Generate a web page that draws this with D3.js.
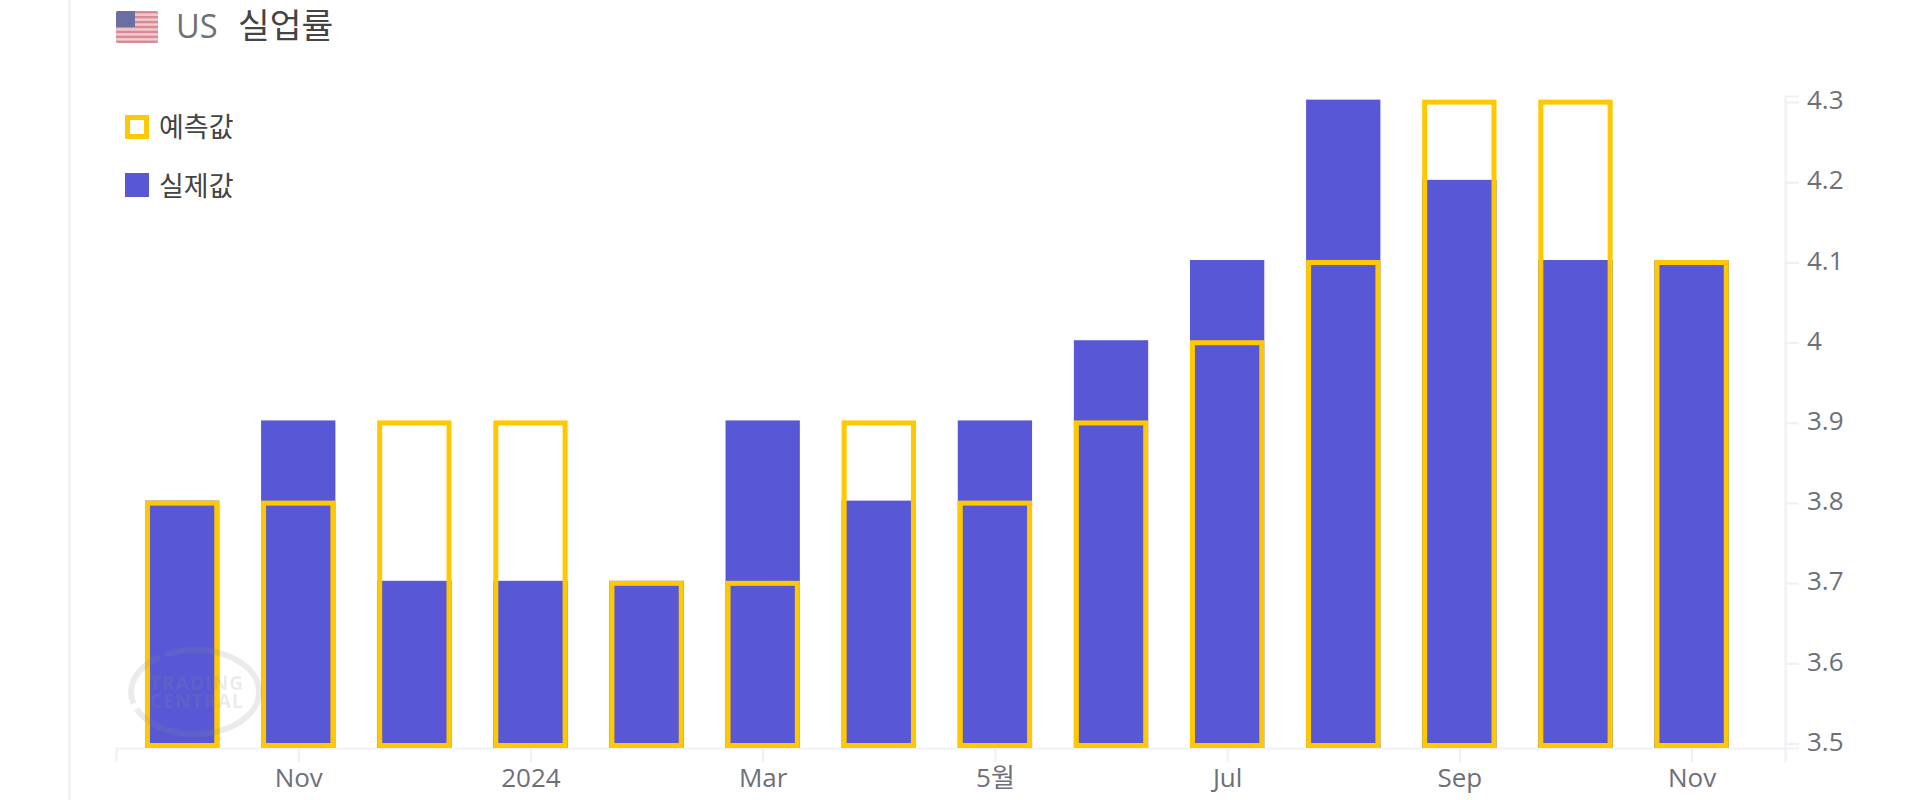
<!DOCTYPE html>
<html><head><meta charset="utf-8">
<script src="https://cdn.jsdelivr.net/npm/d3@7/dist/d3.min.js"></script>
<style>
html,body{margin:0;padding:0;background:#fff;overflow:hidden}
svg{display:block}
text{font-family:"Open Sans","Noto Sans CJK KR",sans-serif}
</style></head><body><div id="c"></div>
<script>
const categories=["Oct","Nov","Dec","2024","Feb","Mar","Apr","5월","Jun","Jul","Aug","Sep","Oct","Nov"];
const forecast=[3.8,3.8,3.9,3.9,3.7,3.7,3.9,3.8,3.9,4.0,4.1,4.3,4.3,4.1];
const actual=[3.8,3.9,3.7,3.7,3.7,3.9,3.8,3.9,4.0,4.1,4.3,4.2,4.1,4.1];
const yTicks=[3.5,3.6,3.7,3.8,3.9,4,4.1,4.2,4.3];
const xTicks=[1,3,5,7,9,11,13];
const legendLabels=["예측값","실제값"];
const titleParts=["US","실업률"];

const W=1920,H=800,BLUE="#5858d6",YEL="#ffc800",AX="#eef1f5",TXT="#6e6f78",DARK="#444444";
const svg=d3.select("#c").append("svg").attr("width",W).attr("height",H);

svg.append("rect").attr("x",68).attr("y",0).attr("width",3).attr("height",H).attr("fill","#f4f4f4");

const x=d3.scaleLinear().domain([-0.5695,13.8045]).range([116,1785]);
const y=d3.scaleLinear().domain([3.4944,4.3074]).range([748,96]);
const base=y.range()[0];
const barLift=2.3;
const bw=(x(1)-x(0))*0.64, sw=5;
const barTop=d=>y(d)-barLift;

// axes
const ax=svg.append("g").attr("transform",`translate(0,${base})`)
  .call(d3.axisBottom(x).tickValues(xTicks).tickFormat(i=>categories[i]).tickSize(14).tickSizeOuter(14).tickPadding(7));
const ay=svg.append("g").attr("transform",`translate(1785,0)`)
  .call(d3.axisRight(y).tickValues(yTicks).tickFormat(d=>String(d)).tickSize(14).tickSizeOuter(14).tickPadding(8));
[ax,ay].forEach(g=>{
  g.selectAll("path,line").attr("stroke",AX).attr("stroke-width",2.2).attr("fill","none");
  g.selectAll("text").attr("fill",TXT).attr("font-size",26);
});
ay.selectAll("text").attr("transform","translate(0,-1.5)");

// bars
svg.append("g").selectAll("rect").data(actual).join("rect")
  .attr("x",(d,i)=>x(i)-bw/2).attr("width",bw)
  .attr("y",d=>barTop(d)).attr("height",d=>base-barTop(d)).attr("fill",BLUE);
svg.append("g").selectAll("rect").data(forecast).join("rect")
  .attr("x",(d,i)=>x(i)-bw/2+sw/2).attr("width",bw-sw)
  .attr("y",d=>barTop(d)+sw/2).attr("height",d=>base-barTop(d)-sw)
  .attr("fill","none").attr("stroke",YEL).attr("stroke-width",sw);

// watermark
const defs=svg.append("defs");
defs.append("filter").attr("id","bl").append("feGaussianBlur").attr("stdDeviation",.6);
defs.append("clipPath").attr("id","fc").append("rect").attr("x",116).attr("y",11).attr("width",42).attr("height",32).attr("rx",2);
const wm=svg.append("g").attr("opacity",.16).attr("fill","#8a8a8a").attr("filter","url(#bl)");
wm.append("ellipse").attr("cx",195).attr("cy",692).attr("rx",64).attr("ry",42)
  .attr("fill","none").attr("stroke","#8a8a8a").attr("stroke-width",6).attr("stroke-dasharray","150 6 60 6");
wm.append("text").attr("x",197).attr("y",690).attr("text-anchor","middle").attr("font-size",19).attr("letter-spacing",1.2).attr("font-weight",700).text("TRADING");
wm.append("text").attr("x",197).attr("y",708).attr("text-anchor","middle").attr("font-size",19).attr("letter-spacing",1.2).attr("font-weight",700).text("CENTRAL");

// flag
const fl=svg.append("g").attr("filter","url(#bl)");
const fg=fl.append("g").attr("clip-path","url(#fc)");
fg.append("rect").attr("x",116).attr("y",11).attr("width",42).attr("height",32).attr("fill","#f0ccd0");
d3.range(7).forEach(k=>fg.append("rect").attr("x",116).attr("y",11+k*32/6.5).attr("width",42).attr("height",32/13).attr("fill","#d98a94"));
fg.append("rect").attr("x",116).attr("y",11).attr("width",19).attr("height",16).attr("fill","#6a6ea0");

// title
svg.append("text").attr("x",176).attr("y",38).attr("font-size",32.5).attr("fill",TXT).text(titleParts[0]);
svg.append("text").attr("x",238).attr("y",37.5).attr("font-size",34.5).attr("fill",DARK).text(titleParts[1]);

// legend
svg.append("rect").attr("x",127.5).attr("y",117.5).attr("width",19).attr("height",19).attr("fill","none").attr("stroke",YEL).attr("stroke-width",5);
svg.append("rect").attr("x",125).attr("y",173).attr("width",24).attr("height",24).attr("fill",BLUE);
svg.append("text").attr("x",159).attr("y",137).attr("font-size",27).attr("fill",DARK).text(legendLabels[0]);
svg.append("text").attr("x",159).attr("y",196).attr("font-size",27).attr("fill",DARK).text(legendLabels[1]);
</script></body></html>
